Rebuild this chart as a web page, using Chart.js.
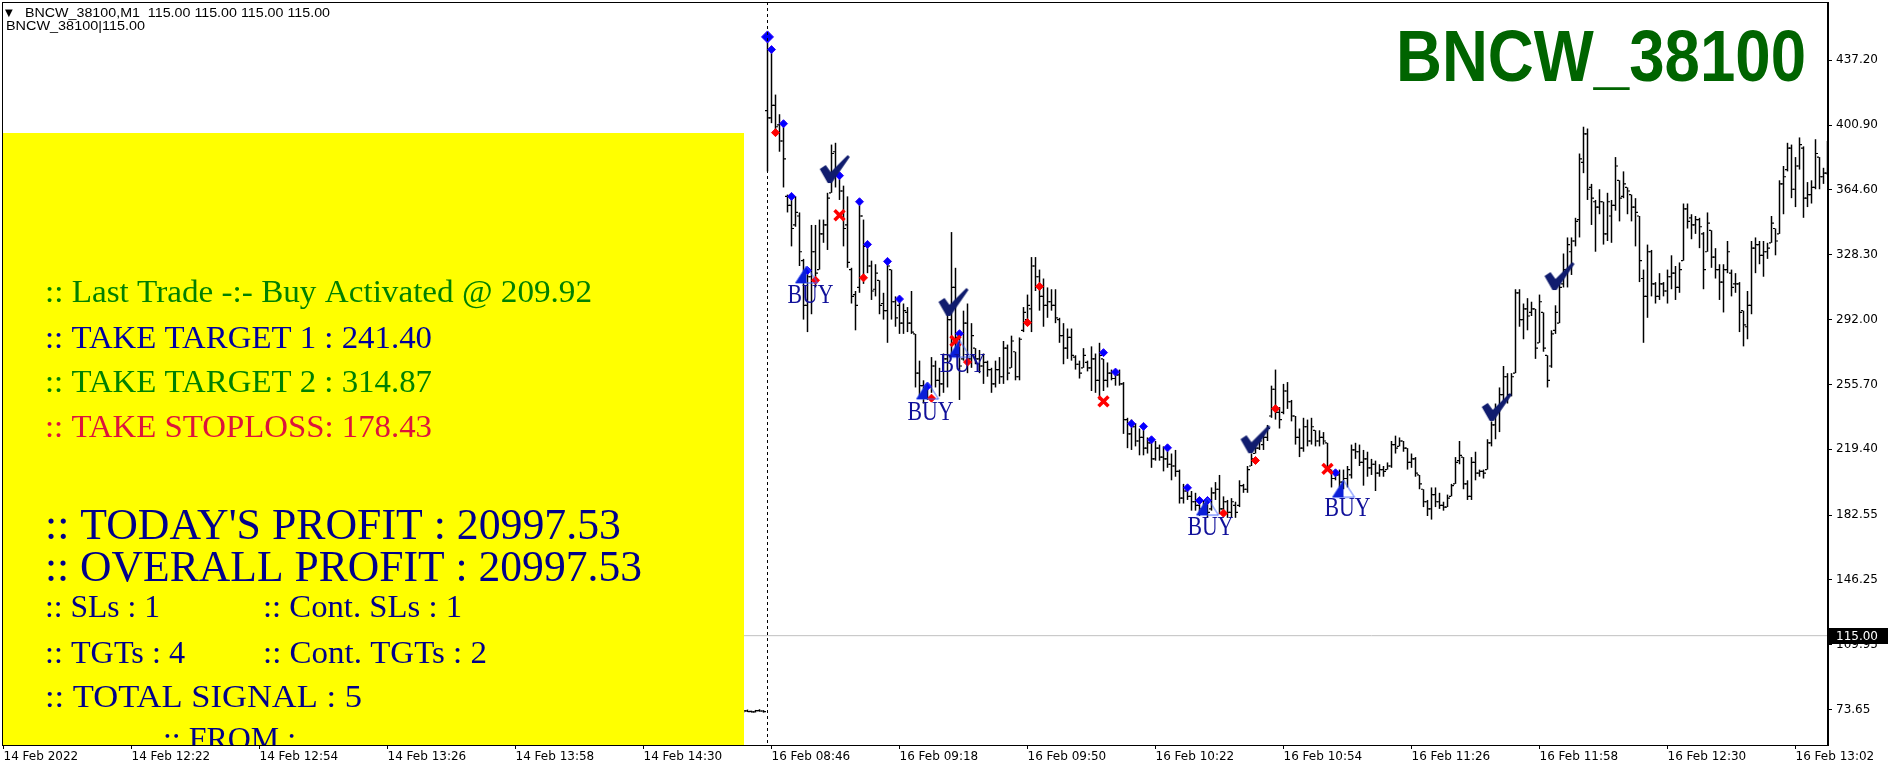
<!DOCTYPE html>
<html>
<head>
<meta charset="utf-8">
<script src="https://cdn.jsdelivr.net/npm/chart.js@4.4.0/dist/chart.umd.min.js"></script>
<style>
  html, body { margin: 0; padding: 0; background: #fff; }
</style>
</head>
<body>
<canvas id="c" width="1892" height="771"></canvas>
<script>
// ---- data (bar index 0 = 14 Feb 2022 first bar) ----
const symbol = "BNCW_38100";
const firstBar = 185;
const highs = [
  73.2, 73.6, 73.0, 73.4, 73.8, 73.3,
  450, 443, 418, 407, 403, 362, 362, 361, 352, 326,
  321, 345, 345, 348, 348, 363, 390, 391, 374, 367,
  361, 321, 308, 358, 348, 335, 325, 323, 314, 307,
  325, 320, 305, 304, 301, 299, 308, 284, 269, 258,
  256, 271, 269, 265, 273, 297, 341, 321, 285, 297,
  301, 290, 276, 275, 273, 269, 265, 269, 271, 280,
  278, 283, 274, 282, 299, 306, 327, 327, 320, 315,
  310, 309, 309, 293, 290, 287, 287, 272, 269, 276,
  269, 277, 273, 279, 270, 268, 264, 264, 264, 257,
  237, 236, 234, 231, 232, 226, 224, 224, 222, 221,
  220, 217, 219, 208, 200, 198, 196, 195, 192, 191,
  189, 198, 201, 205, 193, 191, 192, 190, 202, 200,
  210, 217, 221, 226, 228, 233, 255, 264, 243, 256,
  257, 247, 238, 231, 237, 236, 237, 230, 230, 229,
  223, 208, 207, 208, 208, 210, 222, 223, 222, 219,
  218, 214, 213, 211, 210, 212, 224, 227, 226, 224,
  220, 217, 215, 205, 197, 191, 198, 198, 195, 190,
  194, 200, 215, 224, 215, 202, 215, 218, 208, 208,
  225, 235, 245, 254, 266, 262, 262, 309, 309, 301,
  304, 302, 298, 306, 296, 272, 286, 300, 315, 329,
  338, 338, 349, 385, 400, 399, 368, 359, 365, 358,
  363, 359, 383, 370, 375, 366, 362, 360, 350, 320,
  334, 331, 313, 318, 313, 320, 328, 322, 324, 357,
  357, 351, 350, 349, 341, 352, 342, 332, 323, 323,
  336, 320, 318, 313, 297, 308, 336, 338, 336, 336,
  335, 350, 343, 370, 378, 391, 390, 383, 394, 389,
  369, 370, 393, 383, 377, 392
];
const lows = [
  71.8, 72.2, 71.9, 72.0, 72.4, 71.9,
  375, 402, 398, 386, 366, 352, 333, 344, 322, 292,
  285, 295, 310, 320, 335, 331, 363, 366, 359, 333,
  321, 301, 286, 307, 312, 318, 303, 305, 295, 292,
  279, 292, 288, 284, 284, 285, 284, 254, 249, 245,
  247, 251, 254, 249, 251, 254, 271, 273, 247, 269,
  262, 265, 267, 262, 256, 260, 251, 254, 256, 256,
  258, 265, 258, 258, 285, 290, 285, 308, 297, 288,
  293, 297, 290, 279, 267, 270, 269, 264, 259, 265,
  263, 252, 251, 247, 252, 254, 258, 255, 255, 228,
  220, 219, 221, 216, 216, 217, 209, 213, 213, 207,
  209, 202, 204, 189, 189, 191, 185, 185, 182, 183,
  181, 185, 191, 183, 183, 181, 181, 181, 187, 195,
  195, 210, 217, 219, 219, 224, 237, 236, 231, 239,
  242, 235, 222, 215, 218, 221, 222, 221, 221, 222,
  208, 198, 202, 198, 197, 198, 203, 214, 210, 199,
  204, 205, 196, 204, 204, 208, 209, 217, 221, 218,
  208, 209, 204, 197, 187, 182, 180, 187, 186, 185,
  187, 193, 200, 211, 197, 191, 191, 202, 204, 203,
  208, 221, 225, 229, 245, 245, 249, 262, 288, 281,
  286, 294, 270, 279, 274, 254, 265, 284, 290, 310,
  310, 317, 333, 338, 374, 359, 345, 330, 351, 334,
  336, 335, 353, 347, 360, 351, 347, 333, 313, 279,
  293, 305, 301, 303, 305, 301, 309, 303, 307, 325,
  343, 337, 340, 332, 309, 330, 321, 315, 303, 296,
  318, 305, 307, 285, 277, 281, 295, 318, 323, 316,
  326, 335, 328, 340, 351, 375, 360, 355, 376, 349,
  355, 357, 365, 365, 368, 373
];
const opens = [
  72.5, 72.9, 72.6, 72.3, 73.0, 72.8,
  409, 405, 412, 401, 392, 361, 356, 345, 350, 325,
  300, 316, 330, 320, 340, 345, 363, 386, 373, 364,
  345, 320, 306, 310, 350, 333, 322, 309, 314, 301,
  297, 320, 302, 300, 290, 296, 290, 284, 262, 255,
  248, 254, 266, 258, 256, 270, 292, 310, 282, 270,
  290, 270, 276, 270, 266, 268, 264, 256, 264, 260,
  276, 265, 274, 260, 286, 292, 298, 322, 316, 305,
  300, 302, 300, 292, 283, 276, 282, 271, 267, 265,
  268, 265, 270, 258, 270, 258, 262, 259, 261, 256,
  236, 228, 232, 224, 226, 220, 223, 214, 220, 215,
  214, 211, 210, 207, 192, 196, 193, 190, 188, 186,
  189, 186, 195, 197, 186, 190, 184, 188, 188, 199,
  197, 210, 217, 220, 222, 226, 238, 253, 240, 240,
  252, 246, 238, 226, 220, 232, 224, 230, 224, 226,
  223, 208, 203, 205, 201, 203, 205, 219, 218, 212,
  214, 209, 211, 206, 208, 208, 210, 222, 221, 224,
  220, 212, 214, 205, 197, 190, 186, 194, 190, 188,
  187, 193, 200, 213, 215, 200, 193, 212, 206, 207,
  208, 223, 233, 240, 250, 260, 250, 262, 307, 292,
  298, 296, 298, 279, 296, 272, 266, 286, 290, 312,
  320, 330, 336, 348, 380, 396, 366, 358, 355, 358,
  340, 350, 356, 370, 361, 366, 362, 355, 350, 315,
  305, 330, 312, 305, 312, 308, 316, 318, 310, 325,
  354, 349, 345, 348, 340, 330, 342, 327, 320, 313,
  320, 318, 312, 312, 297, 288, 300, 332, 334, 328,
  330, 335, 343, 340, 368, 376, 388, 365, 378, 388,
  360, 362, 366, 383, 372, 374
];
const closes = [
  72.9, 72.5, 72.3, 73.0, 72.8, 72.5,
  405, 412, 400, 392, 382, 356, 343, 352, 330, 300,
  316, 330, 318, 340, 345, 360, 385, 373, 364, 343,
  324, 305, 300, 350, 333, 322, 308, 318, 300, 297,
  322, 302, 293, 290, 297, 290, 285, 262, 255, 248,
  254, 266, 258, 256, 270, 292, 310, 282, 266, 290,
  270, 283, 270, 266, 268, 264, 256, 264, 260, 276,
  262, 280, 260, 281, 296, 300, 322, 316, 305, 300,
  302, 300, 293, 283, 276, 282, 272, 267, 262, 272,
  265, 270, 258, 272, 258, 262, 259, 261, 256, 236,
  228, 232, 224, 226, 220, 223, 214, 220, 215, 214,
  211, 210, 207, 192, 196, 193, 190, 188, 186, 189,
  184, 195, 197, 186, 190, 184, 190, 184, 199, 197,
  208, 214, 220, 224, 226, 231, 253, 240, 236, 252,
  246, 238, 226, 220, 232, 224, 232, 224, 226, 224,
  209, 203, 205, 201, 203, 208, 219, 218, 212, 214,
  209, 211, 206, 208, 207, 210, 222, 220, 224, 220,
  212, 214, 206, 200, 190, 186, 194, 190, 188, 187,
  192, 199, 212, 216, 200, 193, 212, 206, 207, 206,
  223, 233, 242, 250, 260, 250, 260, 307, 292, 298,
  294, 298, 276, 302, 276, 258, 284, 296, 310, 320,
  334, 336, 347, 382, 396, 365, 360, 355, 358, 340,
  358, 356, 378, 360, 368, 364, 355, 352, 325, 305,
  330, 312, 305, 312, 308, 316, 318, 310, 320, 354,
  347, 345, 348, 344, 320, 346, 327, 320, 313, 320,
  330, 310, 312, 296, 289, 300, 332, 334, 328, 330,
  332, 346, 336, 368, 372, 388, 365, 378, 390, 360,
  362, 366, 385, 372, 374, 385
];

const tickBars = [0, 32, 64, 96, 128, 160, 192, 224, 256, 288, 320, 352, 384, 416, 448];
const tickLabels = ["14 Feb 2022", "14 Feb 12:22", "14 Feb 12:54", "14 Feb 13:26", "14 Feb 13:58",
  "14 Feb 14:30", "16 Feb 08:46", "16 Feb 09:18", "16 Feb 09:50", "16 Feb 10:22",
  "16 Feb 10:54", "16 Feb 11:26", "16 Feb 11:58", "16 Feb 12:30", "16 Feb 13:02"];
const priceTicks = [437.20, 400.90, 364.60, 328.30, 292.00, 255.70, 219.40, 182.55, 146.25, 109.95, 73.65];
const currentPrice = 115.00;
const daySeparator = 191;
const xMin = -0.375, xMax = 456.125, yMin = 53.77, yMax = 469.85;

// signal arrows: [bar, price]
const bigBlueDot = [[191, 450.3]];
const blueDots = [[192, 443.2], [195, 401.7], [197, 361], [201, 319.5], [209, 372.6], [214, 358],
  [216, 334.1], [221, 324.6], [224, 303.5], [231, 254.7], [239, 284.1], [275, 273.5], [278, 262.6],
  [282, 233.7], [285, 232.2], [287, 224.7], [291, 220.2], [296, 197.8], [299, 190.7], [301, 190.7], [333, 206.2]];
const redDots = [[193, 396.7], [203, 314], [215, 315.4], [232, 248], [241, 268.2], [256, 290.3],
  [259, 310.6], [305, 183.6], [313, 213.1], [318, 242.1]];
const stopCrosses = [[209, 350.4], [238, 280], [275, 246.2], [331, 208.4]];
const targetChecks = [[207.8, 376.3], [237.5, 301.9], [313, 225], [373.3, 243.1], [389, 316.4]];
const buyArrows = [[200.75, 317], [231, 252], [239, 275.4], [301, 187], [335, 197]];
const buyLabels = [[201.75, 306.3], [231.75, 240.8], [239.75, 267.7], [301.75, 176.4], [336, 187]];

const panelLines = [
  { text: ":: Last Trade -:- Buy Activated @ 209.92", x: 45, y: 302, size: 31, w: 547, color: "#008000" },
  { text: ":: TAKE TARGET 1 : 241.40", x: 45, y: 348, size: 31, w: 387, color: "#0000a0" },
  { text: ":: TAKE TARGET 2 : 314.87", x: 45, y: 392, size: 31, w: 387, color: "#008000" },
  { text: ":: TAKE STOPLOSS: 178.43", x: 45, y: 437, size: 31, w: 387, color: "#dc143c" },
  { text: ":: TODAY'S PROFIT : 20997.53", x: 45, y: 539, size: 45, w: 576, color: "#00008b" },
  { text: ":: OVERALL PROFIT : 20997.53", x: 45, y: 581, size: 45, w: 597, color: "#00008b" },
  { text: ":: SLs : 1", x: 45, y: 617, size: 31, w: 115, color: "#00008b" },
  { text: ":: Cont. SLs : 1", x: 263, y: 617, size: 31, w: 199, color: "#00008b" },
  { text: ":: TGTs : 4", x: 45, y: 663, size: 31, w: 140, color: "#00008b" },
  { text: ":: Cont. TGTs : 2", x: 263, y: 663, size: 31, w: 224, color: "#00008b" },
  { text: ":: TOTAL SIGNAL : 5", x: 45, y: 707, size: 31, w: 317, color: "#00008b" },
  { text: ":: FROM :", x: 163, y: 749, size: 31, w: 133, color: "#00008b" }
];

// ---- marker images ----
function makeCheck() {
  const c = document.createElement("canvas");
  c.width = 32; c.height = 30;
  const g = c.getContext("2d");
  g.fillStyle = "#101c6e";
  g.beginPath();
  g.moveTo(1, 15);
  g.lineTo(7, 11);
  g.lineTo(12, 18);
  g.lineTo(29, 1);
  g.lineTo(31, 3);
  g.lineTo(13, 29);
  g.lineTo(9, 29);
  g.closePath();
  g.fill();
  return c;
}
function makeBuyArrow() {
  const c = document.createElement("canvas");
  c.width = 24; c.height = 20;
  const g = c.getContext("2d");
  g.strokeStyle = "#4060ff";
  g.lineWidth = 1;
  g.beginPath();
  g.moveTo(1, 18); g.lineTo(12, 1); g.lineTo(23, 18); g.closePath();
  g.stroke();
  g.fillStyle = "#0a1ed8";
  g.beginPath();
  g.moveTo(1, 18); g.lineTo(12, 1); g.lineTo(12, 18); g.closePath();
  g.fill();
  return c;
}

const pts = (arr) => arr.map(([x, y]) => ({ x, y }));

function fitText(ctx, text, x, y, font, color, width) {
  ctx.save();
  ctx.font = font;
  ctx.fillStyle = color;
  ctx.textBaseline = "alphabetic";
  ctx.textAlign = "left";
  const w = ctx.measureText(text).width;
  ctx.translate(x, y);
  ctx.scale(width / w, 1);
  ctx.fillText(text, 0, 0);
  ctx.restore();
}

function noPad(scale) {
  scale.paddingTop = 0;
  scale.paddingBottom = 0;
  scale.paddingLeft = 0;
  scale.paddingRight = 0;
}

const overlay = {
  id: "overlay",
  afterDatasetsDraw(chart) {
    const { ctx, chartArea, scales } = chart;
    const xs = scales.x, ys = scales.y;

    // day separator
    ctx.save();
    ctx.strokeStyle = "#000";
    ctx.lineWidth = 1;
    ctx.setLineDash([3, 3]);
    const sx = Math.floor(xs.getPixelForValue(daySeparator)) + 0.5;
    ctx.beginPath();
    ctx.moveTo(sx, chartArea.top);
    ctx.lineTo(sx, chartArea.bottom);
    ctx.stroke();
    ctx.restore();

    // BUY texts
    buyLabels.forEach(([b, p]) => {
      const px = xs.getPixelForValue(b), py = ys.getPixelForValue(p);
      fitText(ctx, "BUY", px - 23, py + 9, "27px 'Liberation Serif'", "#10109a", 46);
    });

    // info panel
    ctx.save();
    ctx.beginPath();
    ctx.rect(3, 133, 741, chartArea.bottom - 133);
    ctx.clip();
    ctx.fillStyle = "#ffff00";
    ctx.fillRect(3, 133, 741, chartArea.bottom - 133);
    panelLines.forEach((l) => {
      fitText(ctx, l.text, l.x, l.y, l.size + "px 'Liberation Serif'", l.color, l.w);
    });
    ctx.restore();

    // title + header
    fitText(ctx, symbol, 1396, 81, "bold 72px 'Liberation Sans'", "#006400", 410);
    ctx.save();
    ctx.fillStyle = "#000";
    ctx.font = "10px 'DejaVu Sans'";
    ctx.fillText("\u25BC", 5, 16);
    ctx.restore();
    fitText(ctx, symbol + ",M1  115.00 115.00 115.00 115.00", 25, 17, "13px 'Liberation Sans'", "#000", 305);
    fitText(ctx, symbol + "|115.00", 6, 30, "13px 'Liberation Sans'", "#000", 139);

    // frame
    ctx.save();
    ctx.strokeStyle = "#000";
    ctx.lineWidth = 1;
    ctx.strokeRect(chartArea.left + 0.5, chartArea.top + 0.5,
      chartArea.right - chartArea.left - 1, chartArea.bottom - chartArea.top);
    ctx.restore();
  },
  afterDraw(chart) {
    const { ctx, scales } = chart;
    const py = Math.round(scales.y.getPixelForValue(currentPrice));
    ctx.save();
    ctx.fillStyle = "#000";
    ctx.fillRect(chart.chartArea.right, py - 8, 60, 16);
    ctx.fillStyle = "#fff";
    ctx.font = "12px 'DejaVu Sans'";
    ctx.textBaseline = "middle";
    ctx.fillText(currentPrice.toFixed(2), chart.chartArea.right + 8, py + 1);
    ctx.restore();
  }
};

const barData = highs.map((h, j) => ({ x: firstBar + j, y: [lows[j], h] }));
const openData = opens.map((o, j) => ({ x: firstBar + j - 0.375, y: o }));
const closeData = closes.map((c, j) => ({ x: firstBar + j + 0.375, y: c }));

const checkImg = makeCheck();
const buyImg = makeBuyArrow();

new Chart(document.getElementById("c").getContext("2d"), {
  type: "bar",
  data: {
    datasets: [
      { type: "scatter", data: pts(targetChecks), pointStyle: checkImg, pointRadius: 15 },
      { type: "scatter", data: pts(buyArrows), pointStyle: buyImg, pointRadius: 10 },
      { type: "scatter", data: pts(stopCrosses), pointStyle: "crossRot", pointRadius: 7,
        borderColor: "#ff0000", backgroundColor: "#ff0000", pointBorderWidth: 3.5 },
      { type: "scatter", data: pts(bigBlueDot), pointStyle: "rectRot", pointRadius: 6,
        borderColor: "#2a00ff", backgroundColor: "#0000ff", pointBorderWidth: 1 },
      { type: "scatter", data: pts(blueDots), pointStyle: "rectRot", pointRadius: 4,
        borderColor: "#2a00ff", backgroundColor: "#0000ff", pointBorderWidth: 1 },
      { type: "scatter", data: pts(redDots), pointStyle: "rectRot", pointRadius: 4,
        borderColor: "#ff0000", backgroundColor: "#ff0000", pointBorderWidth: 1 },
      { type: "scatter", data: openData, pointStyle: "line", pointRadius: 1,
        borderColor: "#000", pointBorderWidth: 1.2 },
      { type: "scatter", data: closeData, pointStyle: "line", pointRadius: 1,
        borderColor: "#000", pointBorderWidth: 1.2 },
      { type: "bar", data: barData, backgroundColor: "#000", borderWidth: 0,
        barThickness: 1.5, inflateAmount: 0 },
      { type: "line", data: [{ x: xMin, y: currentPrice }, { x: xMax, y: currentPrice }],
        borderColor: "#c0c0c0", borderWidth: 1, pointRadius: 0 }
    ]
  },
  options: {
    responsive: false,
    animation: false,
    events: [],
    layout: { autoPadding: false, padding: { left: 2, top: 2, right: 0, bottom: 0 } },
    plugins: { legend: { display: false }, tooltip: { enabled: false } },
    scales: {
      x: {
        type: "linear",
        offset: false,
        min: xMin,
        max: xMax,
        afterBuildTicks: (scale) => { scale.ticks = tickBars.map((v) => ({ value: v })); },
        afterFit: (scale) => { scale.height = 26; noPad(scale); },
        grid: { drawOnChartArea: false, tickLength: 4, color: "#000", offset: false },
        border: { display: true, color: "#000" },
        ticks: {
          autoSkip: false, maxRotation: 0, align: "start", padding: 1, color: "#000",
          font: { family: "'DejaVu Sans'", size: 12 },
          callback: (v, i) => tickLabels[i]
        }
      },
      y: {
        type: "linear",
        position: "right",
        min: yMin,
        max: yMax,
        afterBuildTicks: (scale) => { scale.ticks = priceTicks.map((v) => ({ value: v })); },
        afterFit: (scale) => { scale.width = 64; noPad(scale); },
        grid: { drawOnChartArea: false, tickLength: 4, color: "#000" },
        border: { display: true, color: "#000" },
        ticks: {
          padding: 4, color: "#000",
          font: { family: "'DejaVu Sans'", size: 12 },
          callback: (v) => v.toFixed(2)
        }
      }
    }
  },
  plugins: [overlay]
});
</script>
</body>
</html>
